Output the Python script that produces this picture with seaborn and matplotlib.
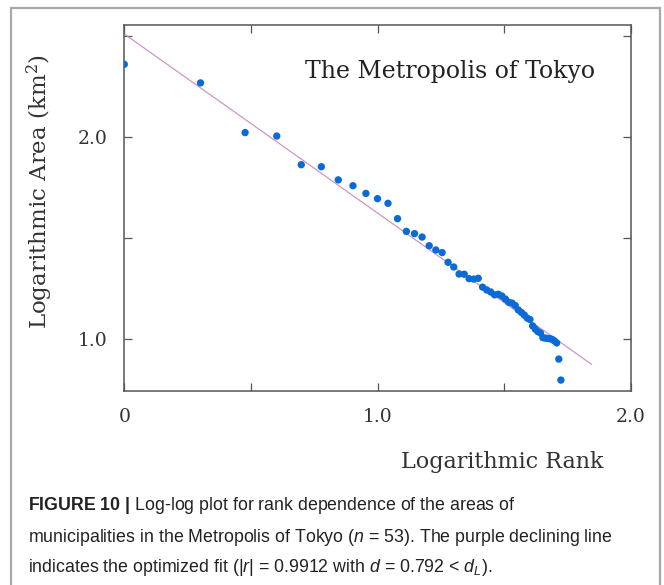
import numpy as np
import pandas as pd
import matplotlib
matplotlib.use("Agg")
import matplotlib.pyplot as plt
from matplotlib import font_manager
from matplotlib.patches import Rectangle
import seaborn as sns

# log10 of rank (1..53) and log10 of municipal area (km^2)
ranks = list(range(1, 54))
log_area = [
    2.361, 2.269, 2.023, 2.006, 1.864, 1.854, 1.789, 1.760, 1.722, 1.696,
    1.673, 1.597, 1.534, 1.523, 1.506, 1.463, 1.442, 1.429, 1.381, 1.358,
    1.323, 1.322, 1.300, 1.298, 1.302, 1.258, 1.244, 1.234, 1.220, 1.223,
    1.214, 1.199, 1.183, 1.179, 1.167, 1.145, 1.133, 1.120, 1.105, 1.098,
    1.066, 1.050, 1.038, 1.031, 1.008, 1.006, 1.004, 1.003, 0.999, 0.992,
    0.982, 0.902, 0.798,
]

# optimized linear fit in log-log space
fit_intercept = 2.511
fit_slope = -0.886
fit_x_range = [0.0, 1.846]

x_ticks = [0.0, 0.5, 1.0, 1.5, 2.0]
x_tick_labels = ["0", "", "1.0", "", "2.0"]
y_ticks = [1.0, 1.5, 2.0, 2.5]
y_tick_labels = ["1.0", "", "2.0", ""]

df = pd.DataFrame({"log_rank": np.log10(ranks), "log_area": log_area})
fit = pd.DataFrame({"log_rank": fit_x_range})
fit["log_area"] = fit_intercept + fit_slope * fit["log_rank"]

sns.set_style("ticks")
serif = "DejaVu Serif"
available = {f.name for f in font_manager.fontManager.ttflist}
cap_font = "Liberation Sans Narrow" if "Liberation Sans Narrow" in available else "Liberation Sans"
plt.rcParams["font.family"] = [serif, "DejaVu Sans"]
plt.rcParams["mathtext.fontset"] = "custom"
plt.rcParams["mathtext.rm"] = cap_font
plt.rcParams["mathtext.it"] = cap_font + ":italic"
plt.rcParams["mathtext.bf"] = cap_font + ":bold"

W, H = 664, 585
fig = plt.figure(figsize=(W / 100, H / 100), dpi=100)
ax = fig.add_axes([124.3 / W, 1 - 391 / H, (630.7 - 124.3) / W, (391 - 24.5) / H])

sns.lineplot(data=fit, x="log_rank", y="log_area", ax=ax, color="#cf8fc2", lw=0.85)
sns.scatterplot(data=df, x="log_rank", y="log_area", ax=ax, color="#0a6ad6",
                s=28, edgecolor="none", zorder=3)

ax.set_xlim(0, 2.0)
ax.set_ylim(0.744, 2.558)
ax.set_xticks(x_ticks)
ax.set_xticklabels(x_tick_labels)
ax.set_yticks(y_ticks)
ax.set_yticklabels(y_tick_labels)
ax.tick_params(direction="in", length=6, width=0.9, color="#555555",
               top=True, right=True, labelsize=13.5, pad=12, labelcolor="#333333")
for sp in ax.spines.values():
    sp.set_color("#555555")
    sp.set_linewidth(1.1)
ax.set_xlabel("")
ax.set_ylabel("")

ax.text(0.714, 2.323, "The Metropolis of Tokyo", fontsize=17, color="#222222",
        ha="left", va="center")

fig.text(502 / W, 1 - 462 / H, "Logarithmic Rank", fontsize=16, color="#333333",
         ha="center", va="center")
fig.text(40 / W, 1 - 191 / H, "Logarithmic Area (km$^2$)", fontsize=16.5,
         color="#333333", ha="center", va="center", rotation=90, math_fontfamily="dejavuserif")

# outer frame
fig.add_artist(Rectangle((11 / W, -0.05), (660 - 11) / W, 1 - 8 / H + 0.05,
                         transform=fig.transFigure, fill=False,
                         edgecolor="#a8a8a8", lw=1.6))

cap_kw = dict(fontsize=12.8, color="#222222", ha="left", va="center", family=cap_font)
fig.text(28 / W, 1 - 505 / H,
         r"$\mathbf{FIGURE\ 10\ |}$ Log-log plot for rank dependence of the areas of", **cap_kw)
fig.text(28 / W, 1 - 537 / H,
         r"municipalities in the Metropolis of Tokyo ($\mathit{n}$ = 53). The purple declining line",
         **cap_kw)
fig.text(28 / W, 1 - 568 / H,
         r"indicates the optimized fit (|$\mathit{r}$| = 0.9912 with $\mathit{d}$ = 0.792 < $\mathit{d}_{\mathit{L}}$).",
         **cap_kw)

fig.savefig("out.png", dpi=100)
